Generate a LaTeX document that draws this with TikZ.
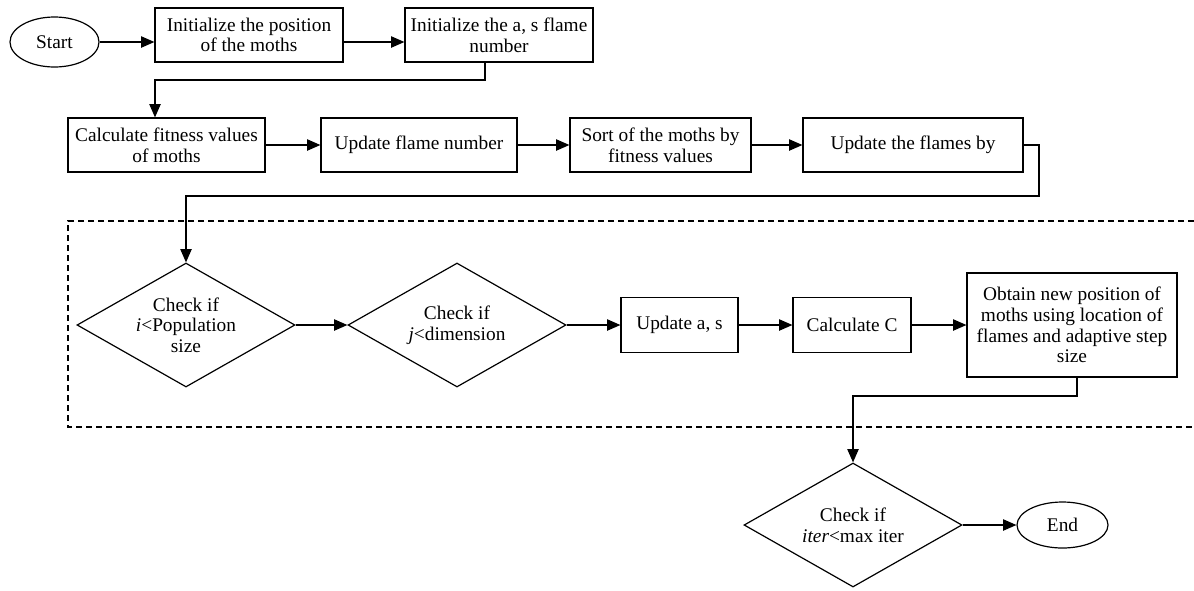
\documentclass[tikz,border=0pt]{standalone}
\usepackage{fontspec}
\setmainfont{Liberation Serif}
\usetikzlibrary{shapes.geometric,arrows.meta}
\begin{document}
\begin{tikzpicture}[x=0.75pt,y=-0.75pt,
  font=\fontsize{14.5pt}{15.5pt}\selectfont,
  sz/.style 2 args={minimum width=#1*0.75pt, minimum height=#2*0.75pt},
  proc/.style={draw, rectangle, align=center, inner sep=2pt, line width=0.9pt},
  term/.style={draw, ellipse, inner sep=0pt, line width=0.9pt},
  dec/.style={draw, diamond, align=center, inner sep=-14pt, line width=0.9pt},
  arr/.style={line width=0.9pt, -{Triangle[length=10pt,width=8.5pt]}},
  frame/.style={line width=0.8pt, dash pattern=on 4.5pt off 3pt}]
\useasboundingbox (0,0) rectangle (1194,590);

% dashed frame around the inner loop (open on the right)
\draw[frame] (1194,221) -- (68,221) -- (68,427) -- (1194,427);

% first row
\node[term, sz={89}{50}] (st) at (54.5,42) {Start};
\node[proc, sz={188}{54}] (b1) at (249,35) {Initialize the position\\of the moths};
\node[proc, sz={188}{54}] (b2) at (499,35) {Initialize the a, s flame\\number};

% second row
\node[proc, sz={197}{54}] (b3) at (166.5,145) {Calculate fitness values\\of moths};
\node[proc, sz={196}{54}] (b4) at (419,145) {Update flame number};
\node[proc, sz={181}{54}] (b5) at (660.5,145) {Sort of the moths by\\fitness values};
\node[proc, sz={220}{54}] (b6) at (913,145) {Update the flames by};

% inner loop
\node[dec, sz={218}{124}] (d1) at (186,325) {Check if\\\textit{i}<Population\\size};
\node[dec, sz={218}{124}] (d2) at (457,325) {Check if\\\textit{j}<dimension};
\node[proc, sz={117}{55}] (b7) at (679.5,325) {Update a, s};
\node[proc, sz={118}{55}] (b8) at (852,325) {Calculate C};
\node[proc, sz={210}{104}] (b9) at (1072,325) {Obtain new position of\\moths using location of\\flames and adaptive step\\size};

% termination
\node[dec, sz={218}{124}] (d3) at (853,525) {Check if\\\textit{iter}<max iter};
\node[term, sz={91}{46}] (en) at (1062.5,525) {End};

% bend points of the routed connectors
\coordinate (k1) at (485,80);
\coordinate (k2) at (155,80);
\coordinate (k3) at (1039,196);
\coordinate (k4) at (1077,396);

% connectors
\draw[arr] (st.east) -- (st.east -| b1.west);
\draw[arr] (b1.east |- st.east) -- (st.east -| b2.west);
\draw[arr] (b2.south -| k1) -- (k1) -- (k2) -- (k2 |- b3.north);
\draw[arr] (b3) -- (b4);
\draw[arr] (b4) -- (b5);
\draw[arr] (b5) -- (b6);
\draw[arr] (b6.east) -- (b6.east -| k3) -- (k3) -- (k3 -| d1.north) -- (d1.north);
\draw[arr] (d1) -- (d2);
\draw[arr] (d2) -- (b7);
\draw[arr] (b7) -- (b8);
\draw[arr] (b8) -- (b9);
\draw[arr] (b9.south -| k4) -- (k4) -- (k4 -| d3.north) -- (d3.north);
\draw[arr] (d3) -- (en);
\end{tikzpicture}
\end{document}
